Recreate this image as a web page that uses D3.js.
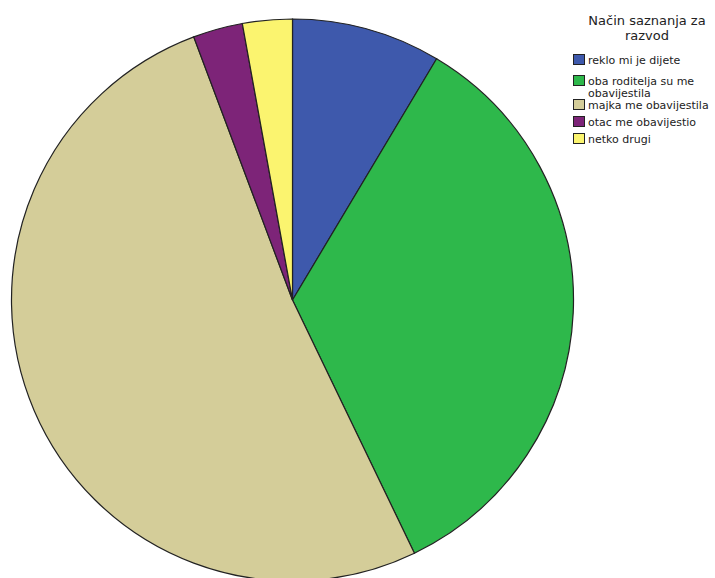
<!DOCTYPE html>
<html>
<head>
<meta charset="utf-8">
<script src="https://cdn.jsdelivr.net/npm/d3@7"></script>
<style>
  body { margin: 0; background: #fff; }
  svg text { font-family: "DejaVu Sans", Arial, sans-serif; fill: #222; }
</style>
</head>
<body>
<div id="chart-area"></div>
<script>
// Data (counts)
const categories = ["reklo mi je dijete", "oba roditelja su me obavijestila", "majka me obavijestila", "otac me obavijestio", "netko drugi"];
const values = [3, 12, 18, 1, 1];
const colors = ["#3e59ac", "#2eb84b", "#d4cd99", "#7d2478", "#fbf46f"];
// legend lines (long labels wrap)
const legendLines = [["reklo mi je dijete"], ["oba roditelja su me", "obavijestila"], ["majka me obavijestila"], ["otac me obavijestio"], ["netko drugi"]];
const legendTitle = ["Način saznanja za", "razvod"];

const width = 715, height = 578;
const cx = 292.5, cy = 300, radius = 281;

const svg = d3.select("#chart-area").append("svg")
    .attr("width", width)
    .attr("height", height);

const pie = d3.pie().sort(null).value(d => d);
const arc = d3.arc().innerRadius(0).outerRadius(radius);

const g = svg.append("g")
    .attr("transform", "translate(" + cx + "," + cy + ")");

g.selectAll("path")
    .data(pie(values))
    .enter().append("path")
    .attr("d", arc)
    .style("fill", (d, i) => colors[i])
    .style("stroke", "#222")
    .style("stroke-width", 1.2);

// Legend
const legend = svg.append("g").attr("class", "legend");

legend.selectAll("text.title")
    .data(legendTitle)
    .enter().append("text")
    .attr("class", "title")
    .attr("x", 647)
    .attr("y", (d, i) => 25 + i * 15)
    .attr("text-anchor", "middle")
    .style("font-size", "13px")
    .text(d => d);

const rowY = [54, 75, 99, 116, 133];

const items = legend.selectAll("g.item")
    .data(categories)
    .enter().append("g")
    .attr("class", "item")
    .attr("transform", (d, i) => "translate(573," + rowY[i] + ")");

items.append("rect")
    .attr("x", 0.5)
    .attr("y", 0.5)
    .attr("width", 11)
    .attr("height", 10)
    .style("fill", (d, i) => colors[i])
    .style("stroke", "#222")
    .style("stroke-width", 1);

items.each(function (d, i) {
    d3.select(this).selectAll("text")
        .data(legendLines[i])
        .enter().append("text")
        .attr("x", 15)
        .attr("y", (t, j) => 9.5 + j * 12)
        .style("font-size", "11px")
        .text(t => t);
});
</script>
</body>
</html>
